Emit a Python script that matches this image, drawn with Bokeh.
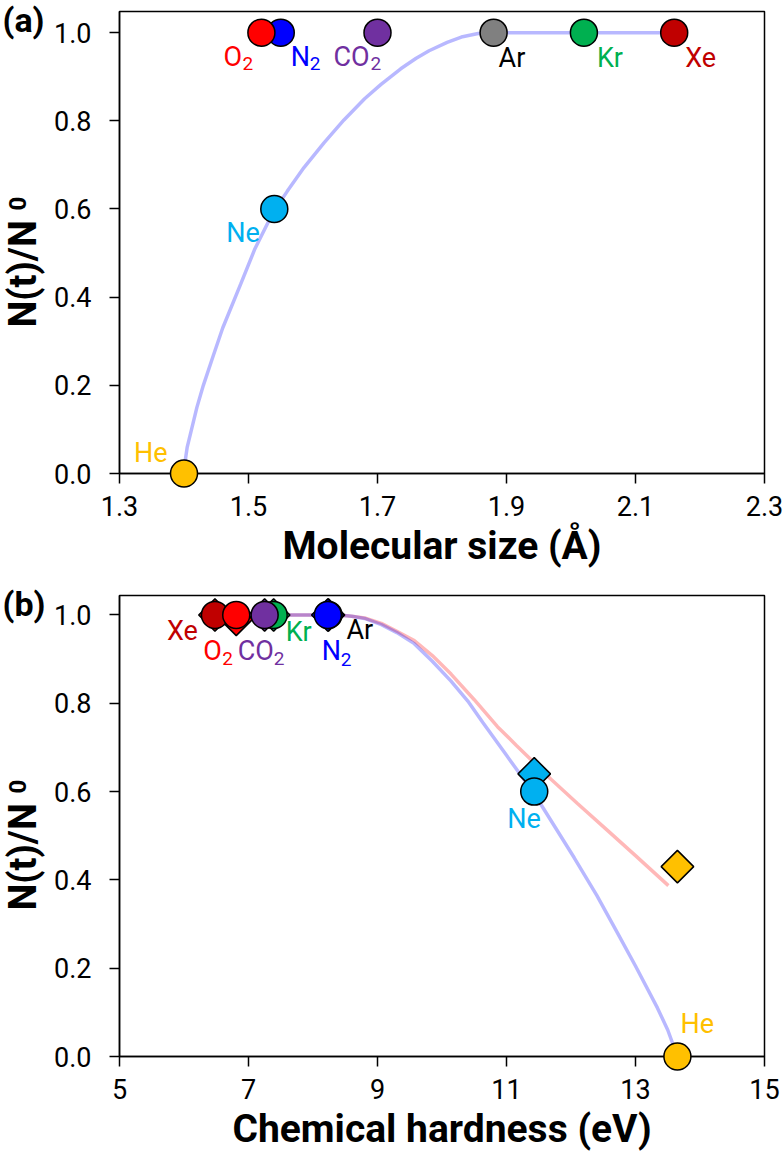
import math
from bokeh.plotting import figure
from bokeh.layouts import column
from bokeh.models import Range1d, FixedTicker, ColumnDataSource, PrintfTickFormatter
from bokeh.core.properties import value
from bokeh.embed import file_html
from bokeh.resources import INLINE

# ---- gases -------------------------------------------------------------
gases = ["He", "Ne", "Ar", "Kr", "Xe", "N2", "O2", "CO2"]
gas_fill = ["#FFC000", "#00B0F0", "#808080", "#00B050", "#C00000", "#0000FF", "#FF0000", "#7030A0"]
gas_text = ["#FFC000", "#00B0F0", "#000000", "#00B050", "#C00000", "#0000FF", "#FF0000", "#7030A0"]
label_main = ["He", "Ne", "Ar", "Kr", "Xe", "N", "O", "CO"]
label_sub = ["", "", "", "", "", "2", "2", "2"]

# ---- (a) retention vs molecular size ------------------------------------
molecular_size = [1.40, 1.54, 1.88, 2.02, 2.16, 1.55, 1.52, 1.70]
retained_a = [0.0, 0.60, 1.0, 1.0, 1.0, 1.0, 1.0, 1.0]

fit_a_size = [1.400, 1.402, 1.405, 1.410, 1.420, 1.430, 1.446, 1.460, 1.488, 1.510,
              1.538, 1.560, 1.586, 1.617, 1.648, 1.680, 1.705, 1.736, 1.760, 1.780,
              1.808, 1.830, 1.856, 1.880, 2.000, 2.100, 2.160]
fit_a_retained = [0.000, 0.030, 0.060, 0.090, 0.150, 0.200, 0.270, 0.330, 0.430, 0.510,
                  0.592, 0.640, 0.694, 0.750, 0.802, 0.850, 0.882, 0.918, 0.942, 0.959,
                  0.978, 0.990, 0.998, 1.000, 1.000, 1.000, 1.000]

# ---- (b) retention vs chemical hardness ---------------------------------
hardness = [13.65, 11.43, 8.24, 7.39, 6.48, 8.23, 6.81, 7.25]
retained_b_circle = [0.0, 0.60, 1.0, 1.0, 1.0, 1.0, 1.0, 1.0]
retained_b_diamond = [0.43, 0.64, 1.0, 1.0, 1.0, 1.0, 0.99, 1.0]

fit_b_circle_x = [6.48, 7.50, 8.40, 8.60, 8.80, 9.06, 9.30, 9.57, 9.85, 10.14, 10.40,
                  10.63, 11.00, 11.43, 12.05, 12.40, 12.72, 13.00, 13.34, 13.50, 13.65]
fit_b_circle_y = [1.000, 1.000, 1.000, 0.997, 0.992, 0.978, 0.960, 0.935, 0.895, 0.850, 0.805,
                  0.757, 0.682, 0.595, 0.450, 0.365, 0.280, 0.205, 0.110, 0.060, 0.000]
fit_b_diamond_x = [6.48, 7.50, 8.40, 8.60, 8.80, 9.06, 9.30, 9.57, 9.85, 10.14, 10.50,
                   10.86, 11.15, 11.43, 11.69, 12.10, 12.565, 13.00, 13.51]
fit_b_diamond_y = [1.000, 1.000, 1.000, 0.997, 0.993, 0.981, 0.963, 0.942, 0.908, 0.866, 0.808,
                   0.747, 0.705, 0.665, 0.628, 0.573, 0.512, 0.455, 0.387]

x_ticks_a = [1.3, 1.5, 1.7, 1.9, 2.1, 2.3]
x_ticks_b = [5, 7, 9, 11, 13, 15]
y_ticks = [0.0, 0.2, 0.4, 0.6, 0.8, 1.0]

# label offsets in pixels (left edge / baseline relative to the marker)
lab_a_dx = [-50, -48, 5, 13, 11, 10, -38, -44]
lab_a_dy = [-21, 24, 25, 25, 25, 24, 24, 24]
sub_a_dx = [0, 0, 0, 0, 0, 29, -19, -7]
sub_a_dy = [0, 0, 0, 0, 0, 31, 31, 31]

lab_b_dx = [3, -27, 18, 12, -48, -6, -33, -27]
lab_b_dy = [-33, 27, 15, 17, 16, 36, 36, 36]
sub_b_dx = [0, 0, 0, 0, 0, 13, -14, 9]
sub_b_dy = [0, 0, 0, 0, 0, 45, 44, 44]

LINE_FONT = "Roboto"
TITLE_FONT = "Roboto"
BLUE_FIT = "#0000FF"
RED_FIT = "#FF0000"


def base_figure(x_range, y_range, b_top, b_bottom, xticks, xfmt, xtitle):
    p = figure(width=784, height=582, x_range=x_range, y_range=y_range,
               output_backend="svg", toolbar_location=None,
               min_border_left=119, min_border_right=20,
               min_border_top=b_top, min_border_bottom=b_bottom)
    p.grid.visible = False
    p.background_fill_color = "white"
    p.border_fill_color = "white"
    p.outline_line_color = "black"
    p.outline_line_width = 1.5
    p.outline_line_alpha = 1.0
    for ax in (p.xaxis[0], p.yaxis[0]):
        ax.axis_line_color = "black"
        ax.axis_line_width = 1.5
        ax.major_tick_line_color = "black"
        ax.major_tick_line_width = 1.5
        ax.major_tick_out = 10
        ax.major_tick_in = 0
        ax.minor_tick_line_color = None
        ax.major_label_text_font = LINE_FONT
        ax.major_label_text_font_size = "27px"
        ax.major_label_text_color = "black"
    p.xaxis.ticker = FixedTicker(ticks=xticks)
    p.xaxis.formatter = PrintfTickFormatter(format=xfmt)
    p.xaxis.major_label_standoff = 12
    p.xaxis.axis_label = xtitle
    p.xaxis.axis_label_text_font = TITLE_FONT
    p.xaxis.axis_label_text_font_style = "bold"
    p.xaxis.axis_label_text_font_size = "39px"
    p.xaxis.axis_label_text_color = "black"
    p.xaxis.axis_label_standoff = 4
    p.yaxis.ticker = FixedTicker(ticks=y_ticks)
    p.yaxis.formatter = PrintfTickFormatter(format="%.1f")
    p.yaxis.major_label_standoff = 18
    return p


def overlay_text(p, x, y, dx, dy, text, size, bold=True, angle=0.0):
    r = p.text(x=[x], y=[y], text=[text], x_offset=dx, y_offset=dy, angle=angle,
               text_font=value(TITLE_FONT), text_font_style="bold" if bold else "normal",
               text_font_size=size, text_color="black",
               text_align="left", text_baseline="alphabetic")
    r.level = "overlay"
    return r


def add_y_title(p, x0):
    overlay_text(p, x0, 0, -97, -146, "N(t)/N", "38px", angle=math.pi / 2)
    overlay_text(p, x0, 0, -102, -263, "0", "24px", angle=math.pi / 2)


def add_gas_labels(p, xs, ys, dx, dy, sdx, sdy):
    src = ColumnDataSource(dict(x=xs, y=ys, t=label_main, c=gas_text, dx=dx, dy=dy))
    p.text(x="x", y="y", text="t", text_color="c", x_offset="dx", y_offset="dy",
           text_font=value(LINE_FONT), text_font_size="27px",
           text_align="left", text_baseline="alphabetic", source=src)
    idx = [i for i, s in enumerate(label_sub) if s]
    ssrc = ColumnDataSource(dict(x=[xs[i] for i in idx], y=[ys[i] for i in idx],
                                 t=[label_sub[i] for i in idx], c=[gas_text[i] for i in idx],
                                 dx=[sdx[i] for i in idx], dy=[sdy[i] for i in idx]))
    p.text(x="x", y="y", text="t", text_color="c", x_offset="dx", y_offset="dy",
           text_font=value(LINE_FONT), text_font_size="19px",
           text_align="left", text_baseline="alphabetic", source=ssrc)


# ---- panel (a) -----------------------------------------------------------
pa = base_figure(Range1d(1.3, 2.3), Range1d(0, 1.048), 11, 109, x_ticks_a, "%.1f",
                 "Molecular size (Å)")
pa.line(fit_a_size, fit_a_retained, line_color=BLUE_FIT, line_alpha=0.28, line_width=3.5)
ra = pa.scatter(x=molecular_size, y=retained_a, marker="circle", size=27,
                fill_color=gas_fill, line_color="black", line_width=1.5)
ra.level = "overlay"
add_gas_labels(pa, molecular_size, retained_a, lab_a_dx, lab_a_dy, sub_a_dx, sub_a_dy)
add_y_title(pa, 1.3)
overlay_text(pa, 1.3, 1.048, -117, 8, "(a)", "34px")

# ---- panel (b) -----------------------------------------------------------
pb = base_figure(Range1d(5, 15), Range1d(0, 1.044), 13, 108, x_ticks_b, "%d",
                 "Chemical hardness (eV)")
pb.line(fit_b_diamond_x, fit_b_diamond_y, line_color=RED_FIT, line_alpha=0.28, line_width=3.5)
pb.line(fit_b_circle_x, fit_b_circle_y, line_color=BLUE_FIT, line_alpha=0.28, line_width=3.5)
rd = pb.scatter(x=hardness, y=retained_b_diamond, marker="square", angle=math.pi / 4, size=23,
                fill_color=gas_fill, line_color="black", line_width=1.5)
rd.level = "overlay"
rc = pb.scatter(x=hardness, y=retained_b_circle, marker="circle", size=27,
                fill_color=gas_fill, line_color="black", line_width=1.5)
rc.level = "overlay"
add_gas_labels(pb, hardness, retained_b_circle, lab_b_dx, lab_b_dy, sub_b_dx, sub_b_dy)
add_y_title(pb, 5)
overlay_text(pb, 5, 1.044, -117, 8, "(b)", "34px")

layout = column(pa, pb, spacing=0)
open("out.html", "w").write(file_html(layout, INLINE))
